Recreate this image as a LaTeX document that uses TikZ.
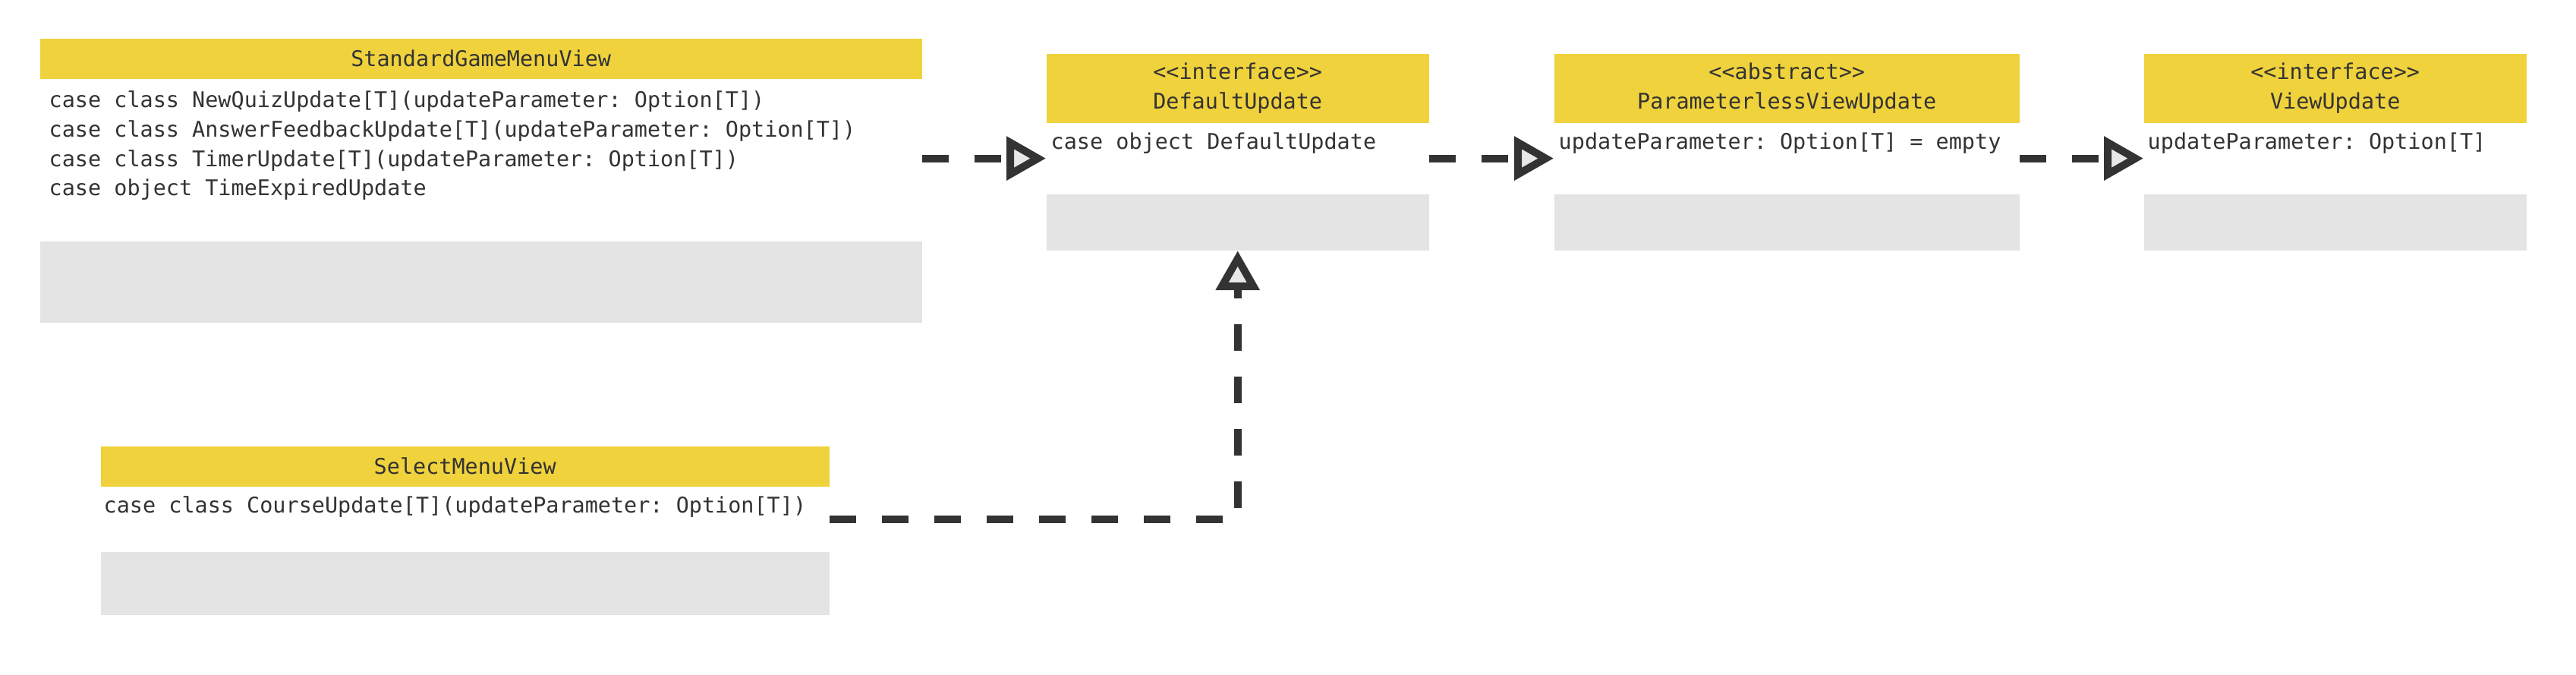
\documentclass[tikz,border=0pt]{standalone}
\usepackage{fontspec}
\setmonofont{DejaVu Sans Mono}
\usepackage{xcolor}
\usetikzlibrary{arrows.meta,positioning}
\definecolor{hdryellow}{RGB}{240,210,60}
\definecolor{bodygray}{RGB}{228,228,228}
\definecolor{inkdark}{RGB}{51,51,51}
\definecolor{tipfill}{RGB}{232,232,232}

\begin{document}
\begin{tikzpicture}[
  font=\ttfamily\fontsize{8.1}{11}\selectfont, text=inkdark,
  hdr/.style={fill=hdryellow, anchor=north west, inner sep=0pt, align=center},
  attr/.style={anchor=north west, inner sep=0pt},
  meth/.style={fill=bodygray, anchor=north west, inner sep=0pt},
  mtxt/.style={anchor=north west, inner sep=0pt, align=left},
  real/.style={draw=inkdark, line width=0.1cm, line join=miter, dash pattern=on 0.35cm off 0.34cm,
    -{Triangle[length=0.52cm, width=0.56cm, fill=tipfill]}}]
  \useasboundingbox (0,0) rectangle (33.94,-8.88);
  % --- StandardGameMenuView ---
  \node[hdr, minimum width=11.62cm, minimum height=0.53cm] (stdH) at (0.52,-0.50) {StandardGameMenuView};
  \node[attr, minimum width=11.62cm, minimum height=2.11cm] (stdA) at (stdH.south west) {};
  \node[meth, minimum width=11.62cm, minimum height=1.07cm] (stdM) at (stdA.south west) {};
  \node[mtxt, below right=0.15cm and 0.12cm of stdA.north west] (stdT) {case class NewQuizUpdate[T](updateParameter: Option[T])\\
    case class AnswerFeedbackUpdate[T](updateParameter: Option[T])\\
    case class TimerUpdate[T](updateParameter: Option[T])\\
    case object TimeExpiredUpdate};
  % --- DefaultUpdate ---
  \node[hdr, minimum width=5.04cm, minimum height=0.91cm] (defH) at (13.78,-0.70) {<<interface>>\\DefaultUpdate};
  \node[attr, minimum width=5.04cm, minimum height=0.91cm] (defA) at (defH.south west) {};
  \node[meth, minimum width=5.04cm, minimum height=0.74cm] (defM) at (defA.south west) {};
  \node[mtxt, below right=0.12cm and 0.06cm of defA.north west] (defT) {case object DefaultUpdate};
  % --- ParameterlessViewUpdate ---
  \node[hdr, minimum width=6.13cm, minimum height=0.91cm] (parH) at (20.47,-0.70) {<<abstract>>\\ParameterlessViewUpdate};
  \node[attr, minimum width=6.13cm, minimum height=0.91cm] (parA) at (parH.south west) {};
  \node[meth, minimum width=6.13cm, minimum height=0.74cm] (parM) at (parA.south west) {};
  \node[mtxt, below right=0.12cm and 0.06cm of parA.north west] (parT) {updateParameter: Option[T] = empty};
  % --- ViewUpdate ---
  \node[hdr, minimum width=5.04cm, minimum height=0.91cm] (viewH) at (28.24,-0.70) {<<interface>>\\ViewUpdate};
  \node[attr, minimum width=5.04cm, minimum height=0.91cm] (viewA) at (viewH.south west) {};
  \node[meth, minimum width=5.04cm, minimum height=0.74cm] (viewM) at (viewA.south west) {};
  \node[mtxt, below right=0.12cm and 0.05cm of viewA.north west] (viewT) {updateParameter: Option[T]};
  % --- SelectMenuView ---
  \node[hdr, minimum width=9.60cm, minimum height=0.53cm] (selH) at (1.32,-5.87) {SelectMenuView};
  \node[attr, minimum width=9.60cm, minimum height=0.83cm] (selA) at (selH.south west) {};
  \node[meth, minimum width=9.60cm, minimum height=0.83cm] (selM) at (selA.south west) {};
  \node[mtxt, below right=0.12cm and 0.04cm of selA.north west] (selT) {case class CourseUpdate[T](updateParameter: Option[T])};
  % --- realizations ---
  \draw[real] (stdA.east |- defA.west) -- (defA.west);
  \draw[real] (defA.east) -- (parA.west);
  \draw[real] (parA.east) -- (viewA.west);
  \draw[real] (selA.east) -| (defM.south);
\end{tikzpicture}
\end{document}
